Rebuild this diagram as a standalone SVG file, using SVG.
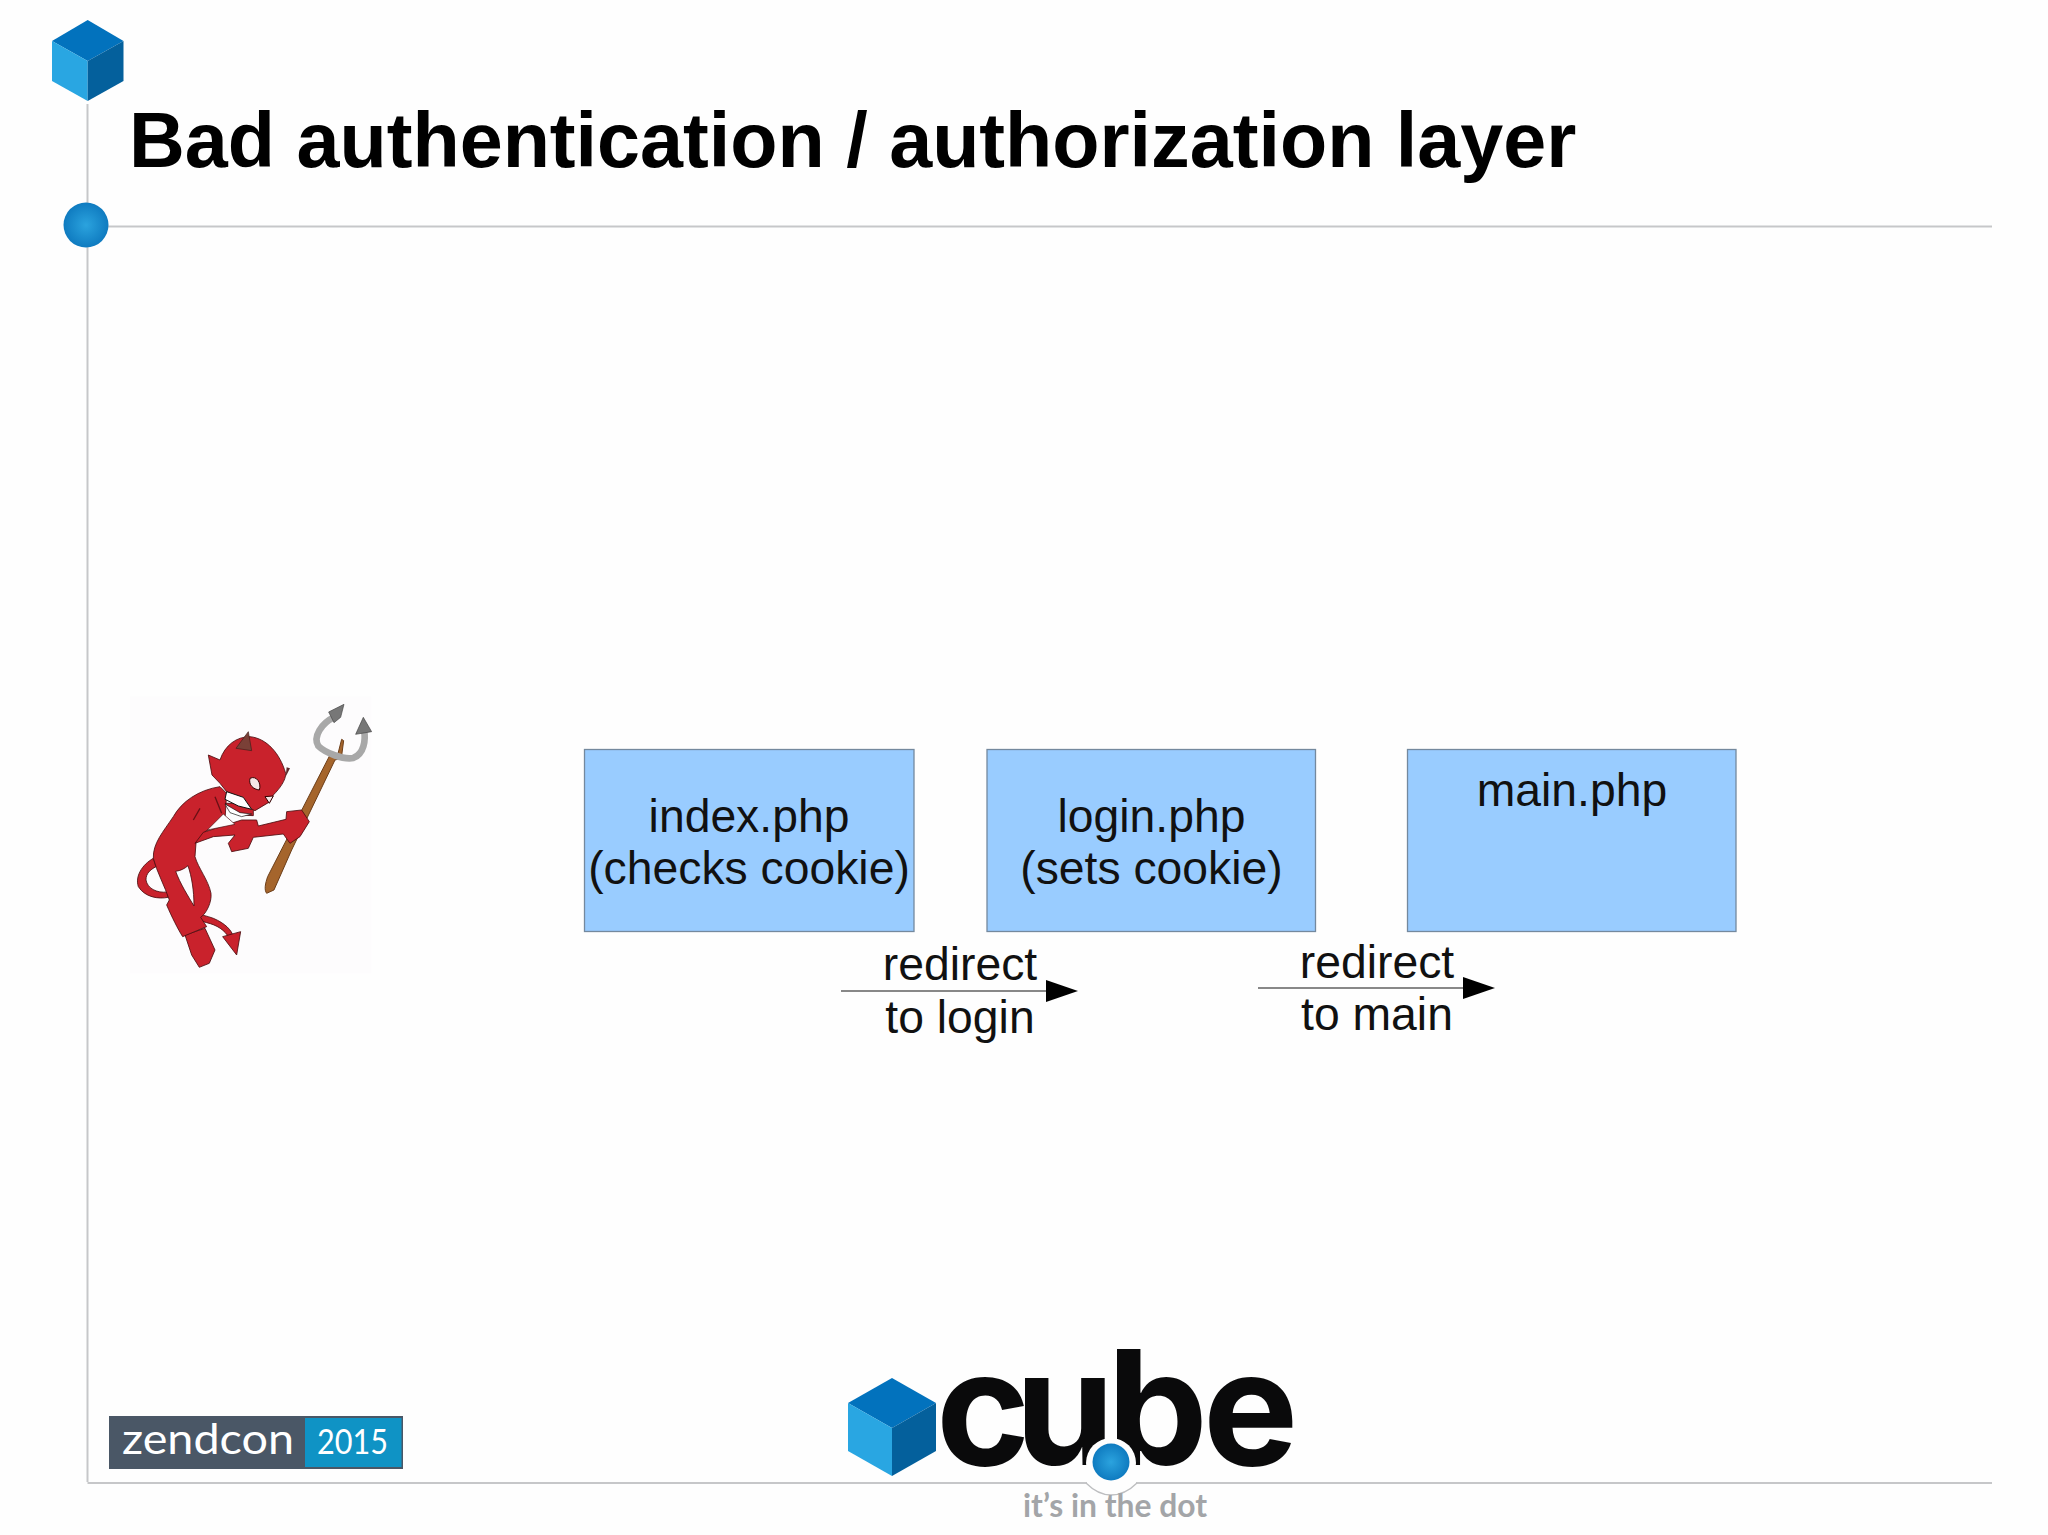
<svg xmlns="http://www.w3.org/2000/svg" width="2048" height="1535" viewBox="0 0 2048 1535">
<style>
.rule{stroke:#c6c7c9;stroke-width:2;fill:none}
.box{fill:#99ccff;stroke:#74899e;stroke-width:1.3}
.lbl{font-family:"Liberation Sans",Arial,sans-serif;font-size:46.300px;fill:#111;text-anchor:middle}
.conn{stroke:#888;stroke-width:2;fill:none}
.head{fill:#000}
.top{fill:#0272bd}.left{fill:#29a6e2}.right{fill:#04609c}
</style>
<defs>
<radialGradient id="dot"><stop offset="0" stop-color="#2ba3de"/><stop offset="1" stop-color="#0f7bc0"/></radialGradient>
</defs>
<rect width="2048" height="1535" fill="#fefefe"/>
<g id="frame">
<path class="rule" d="M87.500 104V1482"/>
<path class="rule" d="M108 226.500H1992"/>
<path class="rule" d="M87.500 1483H1087M1136 1483H1992"/>
<path d="M1086 1483C1095 1492 1104 1495 1111 1495C1119 1495 1128 1492 1137 1483" fill="none" stroke="#bdbec0" stroke-width="1.300"/>
<circle cx="86" cy="225" r="22.500" fill="url(#dot)"/>
</g>
<g id="cube-mark">
<path class="top" d="M87.700 20L123.500 41L87.700 61L52 41Z"/>
<path class="left" d="M52 41L87.700 61V101L52 81Z"/>
<path class="right" d="M123.500 41L87.700 61V101L123.500 81Z"/>
</g>
<text id="title" x="129" y="167" font-family="Liberation Sans,Arial,sans-serif" font-weight="700" font-size="77.300" fill="#000">Bad authentication / authorization layer</text>
<g id="devil" transform="translate(110 680) scale(.3333)">
<rect x="60" y="50" width="725" height="830" fill="#fdfcfd"/>
<path d="M470 640C462 630 466 610 473 590L660 225L683 225L695 178L701 182L694 235L675 240L545 510L492 630Z" fill="#a5652c" stroke="#6b3d18" stroke-width="3"/>
<path d="M672 112C635 130 608 170 625 198C645 218 700 240 730 234C762 222 768 180 762 150" fill="none" stroke="#a8a8a8" stroke-width="20"/>
<path d="M702 73L656 96L672 128L692 112Z M760 112L737 163L785 155Z" fill="#777" stroke="#444" stroke-width="2"/>
<g fill="#c9222c" stroke="#4a0d10" stroke-width="2.500" stroke-linejoin="round">
<path d="M130 535C95 555 75 590 85 620C105 652 145 658 175 652L172 636C140 640 112 625 108 600C108 580 120 570 138 560Z"/>
<path d="M190 660C225 700 270 700 310 715C345 730 365 750 370 770L358 775C345 750 320 735 290 728C250 715 215 710 180 680Z"/>
<path d="M338 770L392 755L380 825Z"/>
<path d="M225 765L285 745L315 810L298 850L268 862L245 825Z"/>
<path d="M330 320C265 330 215 365 190 410C160 455 128 490 130 535C140 575 165 620 178 660L170 675C185 710 205 750 218 770L290 740L272 712C290 700 306 665 303 640C295 600 265 565 255 530L258 490L285 455L345 420L350 340Z"/>
<path d="M255 490L280 457L395 420L440 420L445 438L528 418L530 395L575 390L598 425L570 470L540 490L520 462L430 472L415 505L365 515L355 490L375 465L310 470Z"/>
</g>
<path d="M197 574C212 572 224 566 234 557C245 590 252 630 252 678C235 650 210 610 197 574Z" fill="#fdfcfd" stroke="#4a0d10" stroke-width="2.500"/>
<path d="M340 402L375 433L292 450Z" fill="#fdfcfd" stroke="#4a0d10" stroke-width="2"/>
<path d="M345 370L385 405L430 407L430 385L400 370Z" fill="#c9222c" stroke="#4a0d10" stroke-width="2.500"/>
<path d="M295 225L330 240C345 195 380 170 420 170C470 175 510 220 527 280C528 300 510 325 490 345L480 365L435 392L400 375L350 335L330 310L306 285Z" fill="#c9222c" stroke="#4a0d10" stroke-width="2.500" stroke-linejoin="round"/>
<path d="M530 262L540 265L527 290Z" fill="#5c2a2a"/>
<path d="M415 155L378 205L425 212Z" fill="#7a4037" stroke="#401c18" stroke-width="2"/>
<path d="M420 295C440 285 455 310 448 330C430 328 415 315 420 295Z M465 350L490 348L478 370Z" fill="#f5e6e6" stroke="#300" stroke-width="3"/>
<path d="M350 335L400 352L425 388L385 378L345 358Z" fill="#fff" stroke="#111" stroke-width="3"/>
<path d="M345 372L390 398L425 402L395 410L360 398Z" fill="#fff" stroke="#111" stroke-width="2"/>
<path d="M250 420L270 385M315 350L335 400" fill="none" stroke="#6a1015" stroke-width="4"/>
</g>
<g id="node-index">
<rect class="box" x="584.500" y="749.500" width="329.500" height="182"/>
<text class="lbl" x="749" y="832">index.php</text>
<text class="lbl" x="749" y="884">(checks cookie)</text>
</g>
<g id="node-login">
<rect class="box" x="987" y="749.500" width="328.500" height="182"/>
<text class="lbl" x="1151.500" y="832">login.php</text>
<text class="lbl" x="1151.500" y="884">(sets cookie)</text>
</g>
<g id="node-main">
<rect class="box" x="1407.500" y="749.500" width="328.500" height="182"/>
<text class="lbl" x="1572" y="806">main.php</text>
</g>
<g id="connectors">
<path class="conn" d="M841 991H1048"/>
<path class="head" d="M1046 980L1078 991L1046 1002Z"/>
<path class="conn" d="M1258 988H1464"/>
<path class="head" d="M1463 977L1495 988L1463 999Z"/>
</g>
<g id="edge-labels">
<text class="lbl" x="960" y="980">redirect</text>
<text class="lbl" x="960" y="1033">to login</text>
<text class="lbl" x="1377" y="978">redirect</text>
<text class="lbl" x="1377" y="1030">to main</text>
</g>
<g id="zendcon">
<rect x="109" y="1416" width="294" height="53" fill="#4a5766"/>
<rect x="305" y="1418" width="96.500" height="49" fill="#0f93c5"/>
<text x="122" y="1454" font-family="Lato,sans-serif" font-size="42" fill="#fff" textLength="172" lengthAdjust="spacingAndGlyphs">zendcon</text>
<text x="317" y="1454" font-family="Lato,sans-serif" font-size="35" fill="#fff" textLength="71" lengthAdjust="spacingAndGlyphs">2015</text>
</g>
<g id="cube-logo">
<path class="top" d="M892 1378L936 1403L892 1428L848 1403Z"/>
<path class="left" d="M848 1403L892 1428V1476L848 1451Z"/>
<path class="right" d="M936 1403L892 1428V1476L936 1451Z"/>
<text x="936 1015 1107 1203" y="1465" font-family="Inter,sans-serif" font-weight="700" font-size="160" fill="#0a0a0b">cube</text>
<circle cx="1111" cy="1463" r="25" fill="#fefefe"/>
<circle cx="1111" cy="1462" r="18.500" fill="url(#dot)"/>
<text x="1023" y="1517" font-family="Lato,sans-serif" font-weight="700" font-size="33" fill="#a3a5a8" textLength="184" lengthAdjust="spacingAndGlyphs">it’s in the dot</text>
</g>
</svg>
